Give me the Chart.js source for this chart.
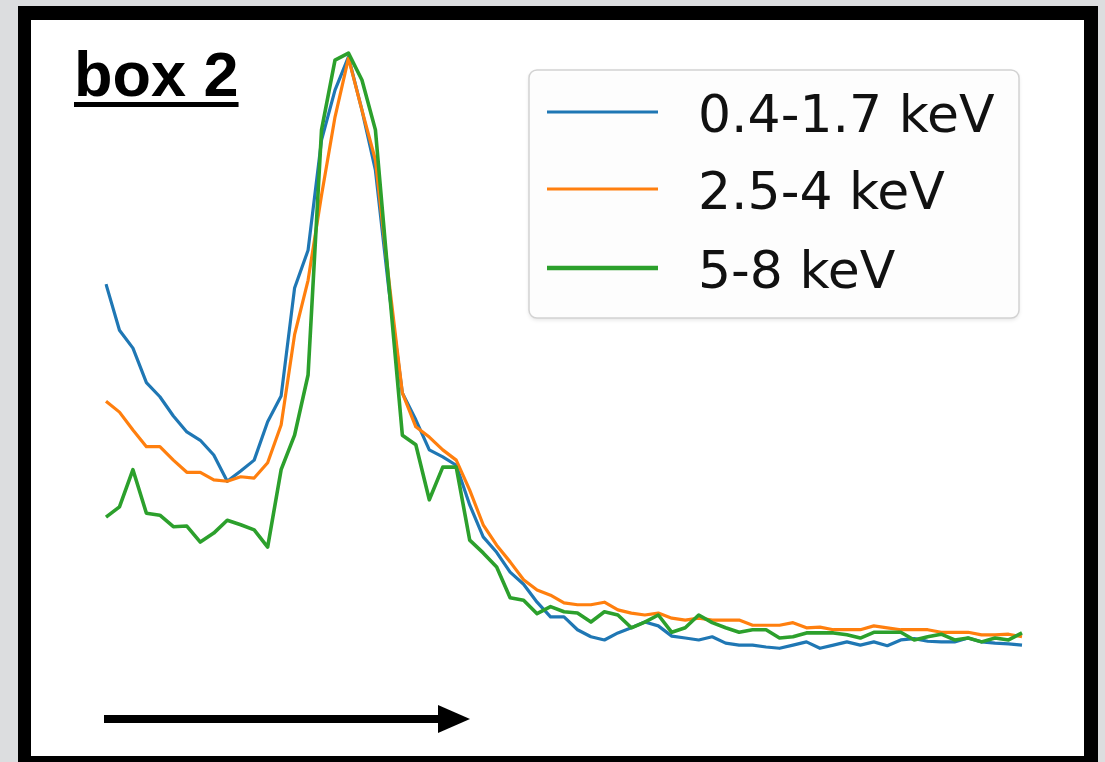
<!DOCTYPE html>
<html>
<head>
<meta charset="utf-8">
<title>box 2 profiles</title>
<script src="https://cdn.jsdelivr.net/npm/chart.js@4/dist/chart.umd.min.js"></script>
<style>
  html, body { margin: 0; padding: 0; background: #dcdddf; }
  #wrap { width: 1105px; height: 762px; }
  canvas { display: block; }
</style>
</head>
<body>
<div id="wrap"><canvas id="c" width="1105" height="762"></canvas></div>
<script>
// Profile bins along the box (arrow direction)
const bins = [0,1,2,3,4,5,6,7,8,9,10,11,12,13,14,15,16,17,18,19,20,21,22,23,24,25,26,27,28,29,30,31,32,33,34,
              35,36,37,38,39,40,41,42,43,44,45,46,47,48,49,50,51,52,53,54,55,56,57,58,59,60,61,62,63,64,65,66,67,68];

// Normalised brightness per band
const soft = [0.642,0.570,0.542,0.488,0.466,0.436,0.411,0.398,0.375,0.334,
              0.350,0.367,0.427,0.467,0.636,0.695,0.867,0.945,0.997,0.914,
              0.820,0.633,0.472,0.430,0.383,0.372,0.359,0.297,0.247,0.223,
              0.192,0.173,0.145,0.122,0.122,0.102,0.091,0.086,0.097,0.105,
              0.114,0.108,0.092,0.089,0.086,0.091,0.081,0.078,0.078,0.075,
              0.073,0.078,0.083,0.073,0.078,0.083,0.078,0.083,0.077,0.086,
              0.088,0.084,0.083,0.083,0.089,0.083,0.081,0.080,0.078];

const medium = [0.459,0.442,0.414,0.388,0.388,0.367,0.348,0.348,0.336,0.334,
                0.341,0.339,0.363,0.422,0.563,0.648,0.781,0.903,0.995,0.914,
                0.836,0.648,0.472,0.419,0.403,0.383,0.367,0.320,0.266,0.234,
                0.208,0.180,0.164,0.156,0.144,0.141,0.141,0.145,0.133,0.128,
                0.125,0.128,0.120,0.117,0.120,0.117,0.117,0.117,0.109,0.109,
                0.109,0.113,0.105,0.106,0.102,0.102,0.102,0.108,0.105,0.102,
                0.102,0.102,0.098,0.098,0.098,0.094,0.094,0.095,0.091];

const hard = [0.278,0.294,0.352,0.284,0.281,0.263,0.264,0.239,0.253,0.273,
              0.266,0.258,0.231,0.352,0.406,0.500,0.883,0.992,1.003,0.961,
              0.883,0.641,0.406,0.391,0.305,0.356,0.356,0.242,0.222,0.200,
              0.152,0.148,0.127,0.138,0.130,0.128,0.114,0.130,0.125,0.105,
              0.114,0.125,0.098,0.105,0.125,0.113,0.105,0.098,0.102,0.102,
              0.089,0.091,0.097,0.097,0.097,0.094,0.089,0.098,0.098,0.098,
              0.086,0.091,0.095,0.086,0.089,0.083,0.089,0.086,0.097];

const bandLabels = ['0.4-1.7 keV', '2.5-4 keV', '5-8 keV'];
const bandColors = ['#1f77b4', '#ff7f0e', '#2ca02c'];
const panelTitle = 'box 2';

// Gray page, thick black frame and white panel behind the plot
const framePlugin = {
  id: 'frame',
  beforeDraw(chart) {
    const ctx = chart.ctx;
    ctx.save();
    ctx.fillStyle = '#dcdddf';
    ctx.fillRect(0, 0, chart.width, chart.height);
    ctx.fillStyle = '#000000';
    ctx.fillRect(18, 6, 1080, 800);
    ctx.fillStyle = '#ffffff';
    ctx.fillRect(31, 20, 1053, 736);
    ctx.restore();
  }
};

// Panel label, direction arrow and the legend box
const decorPlugin = {
  id: 'decor',
  afterDraw(chart) {
    const ctx = chart.ctx;
    ctx.save();

    // underlined bold panel label
    ctx.fillStyle = '#000';
    ctx.font = 'bold 63px "Liberation Sans", Arial, sans-serif';
    ctx.textBaseline = 'alphabetic';
    ctx.fillText(panelTitle, 74, 96);
    const w = ctx.measureText(panelTitle).width;
    ctx.fillRect(74, 102, w, 5);

    // arrow along the profile direction
    ctx.fillRect(104, 715, 340, 8);
    ctx.beginPath();
    ctx.moveTo(470, 719);
    ctx.lineTo(438, 705);
    ctx.lineTo(438, 733);
    ctx.closePath();
    ctx.fill();

    // legend
    const bx = 529, by = 70, bw = 490, bh = 248;
    ctx.shadowColor = 'rgba(0,0,0,0.12)';
    ctx.shadowBlur = 4;
    ctx.shadowOffsetY = 2;
    ctx.beginPath();
    ctx.roundRect(bx, by, bw, bh, 8);
    ctx.fillStyle = 'rgba(255,255,255,0.9)';
    ctx.fill();
    ctx.shadowColor = 'transparent';
    ctx.lineWidth = 1.5;
    ctx.strokeStyle = '#d2d2d2';
    ctx.stroke();

    const rows = [112, 189, 268];
    ctx.font = '52px "DejaVu Sans", sans-serif';
    chart.data.datasets.forEach((ds, i) => {
      const y = rows[i];
      ctx.beginPath();
      ctx.strokeStyle = ds.borderColor;
      ctx.lineWidth = ds.legendWidth;
      ctx.moveTo(547, y);
      ctx.lineTo(658, y);
      ctx.stroke();
      ctx.fillStyle = '#111';
      ctx.fillText(ds.label, 698, y + 20);
    });
    ctx.restore();
  }
};

new Chart(document.getElementById('c'), {
  type: 'line',
  data: {
    labels: bins,
    datasets: [
      { label: bandLabels[0], data: soft,   borderColor: bandColors[0], borderWidth: 3.2, legendWidth: 3,   order: 3 },
      { label: bandLabels[1], data: medium, borderColor: bandColors[1], borderWidth: 3.2, legendWidth: 3,   order: 2 },
      { label: bandLabels[2], data: hard,   borderColor: bandColors[2], borderWidth: 3.6, legendWidth: 4.5, order: 1 }
    ]
  },
  options: {
    responsive: false,
    devicePixelRatio: 1,
    animation: false,
    layout: { padding: { left: 106, right: 83, top: 23, bottom: 67 } },
    elements: {
      point: { radius: 0 },
      line: { tension: 0, fill: false, borderJoinStyle: 'round', borderCapStyle: 'butt' }
    },
    scales: {
      x: { type: 'category', display: false, offset: false },
      y: { display: false, min: 0, max: 1.05 }
    },
    plugins: {
      legend: { display: false },
      title: { display: false },
      tooltip: { enabled: false }
    }
  },
  plugins: [framePlugin, decorPlugin]
});
</script>
</body>
</html>
